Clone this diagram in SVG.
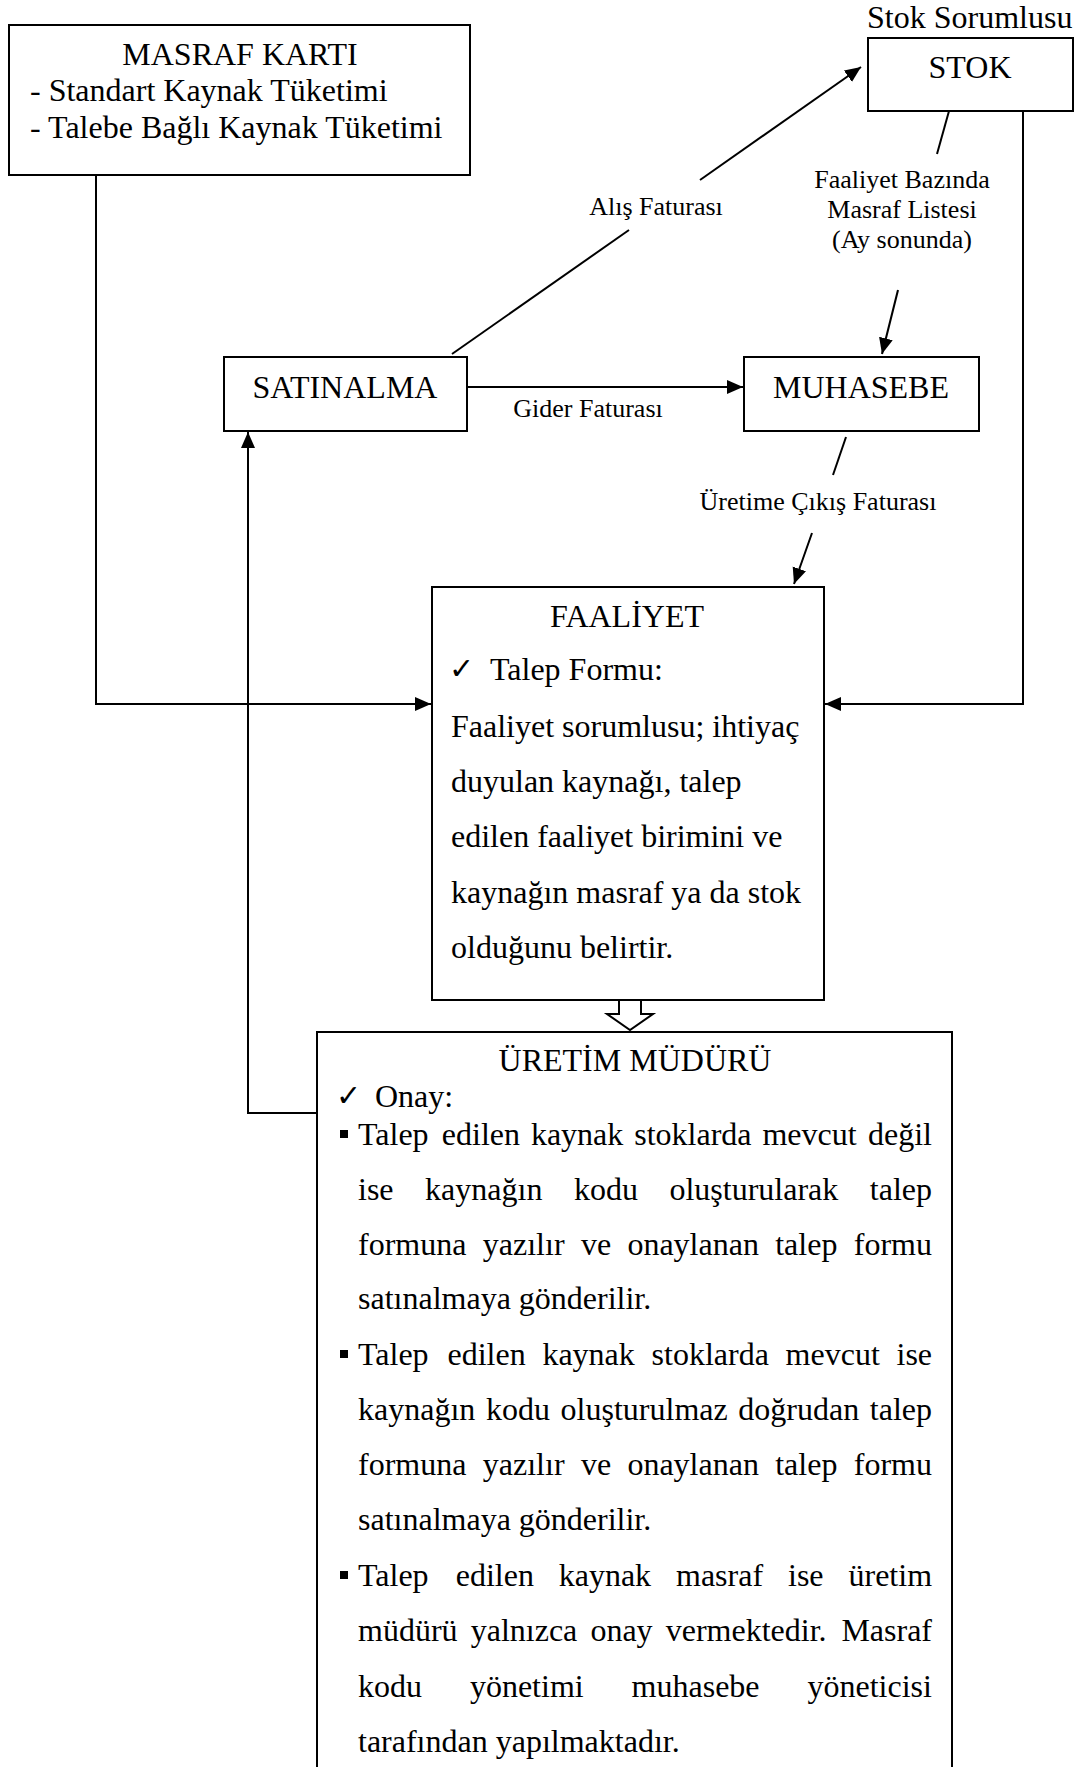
<svg xmlns="http://www.w3.org/2000/svg" width="1083" height="1767" viewBox="0 0 1083 1767">
<style>
.box{fill:#fff;stroke:#000;stroke-width:2}
.t{font-family:"Liberation Serif","Times New Roman",serif;font-size:32px;fill:#000}
.lbl{font-size:26px}
.mid{text-anchor:middle}
.ck{font-family:"DejaVu Sans",sans-serif;font-size:30px;fill:#000}
.c{fill:none;stroke:#000;stroke-width:2}
.ca{fill:none;stroke:#000;stroke-width:2;marker-end:url(#ah)}
</style>
<defs>
<marker id="ah" markerUnits="userSpaceOnUse" markerWidth="18" markerHeight="16" refX="16" refY="7" orient="auto">
<path d="M0,0 L16,7 L0,14 Z" fill="#000"/>
</marker>
</defs>
<rect width="1083" height="1767" fill="#fff"/>

<g id="connectors">
<path class="ca" d="M96,175 V704 H431"/>
<path class="ca" d="M1023,111 V704 H825"/>
<path class="ca" d="M317,1113 H248 V432"/>
<path class="ca" d="M467,387 H743"/>
<path class="c" d="M452,354 L629,230"/>
<path class="ca" d="M700,180 L861,67"/>
<path class="c" d="M949,111 L937,154"/>
<path class="ca" d="M898,290 L882,354"/>
<path class="c" d="M846,437 L833,475"/>
<path class="ca" d="M812,533 L794,584"/>
<polygon points="619,1000 619,1014 607,1014 630,1030 653,1014 641,1014 641,1000" fill="#fff" stroke="#000" stroke-width="2"/>
<text class="t lbl mid" x="656" y="215">Alış Faturası</text>
<text class="t lbl mid" x="588" y="417">Gider Faturası</text>
<text class="t lbl mid" x="902" y="188">Faaliyet Bazında</text>
<text class="t lbl mid" x="902" y="218">Masraf Listesi</text>
<text class="t lbl mid" x="902" y="248">(Ay sonunda)</text>
<text class="t lbl mid" x="818" y="510">Üretime Çıkış Faturası</text>
</g>

<g id="masraf-karti">
<rect class="box" x="9" y="25" width="461" height="150"/>
<text class="t mid" x="240" y="65">MASRAF KARTI</text>
<text class="t" x="30" y="101">- Standart Kaynak Tüketimi</text>
<text class="t" x="30" y="138">- Talebe Bağlı Kaynak Tüketimi</text>
</g>

<g id="stok">
<text class="t" x="867" y="28">Stok Sorumlusu</text>
<rect class="box" x="868" y="38" width="205" height="73"/>
<text class="t mid" x="970" y="78">STOK</text>
</g>

<g id="satinalma">
<rect class="box" x="224" y="357" width="243" height="74"/>
<text class="t mid" x="345" y="398">SATINALMA</text>
</g>

<g id="muhasebe">
<rect class="box" x="744" y="357" width="235" height="74"/>
<text class="t mid" x="861" y="398">MUHASEBE</text>
</g>

<g id="faaliyet">
<rect class="box" x="432" y="587" width="392" height="413"/>
<text class="t mid" x="627" y="627">FAALİYET</text>
<text class="ck" x="449" y="679">✓</text>
<text class="t" x="490" y="680">Talep Formu:</text>
<text class="t" x="451" y="737">Faaliyet sorumlusu; ihtiyaç</text>
<text class="t" x="451" y="792">duyulan kaynağı, talep</text>
<text class="t" x="451" y="847">edilen faaliyet birimini ve</text>
<text class="t" x="451" y="903">kaynağın masraf ya da stok</text>
<text class="t" x="451" y="958">olduğunu belirtir.</text>
</g>

<g id="uretim-muduru">
<rect class="box" x="317" y="1032" width="635" height="760"/>
<text class="t mid" x="635" y="1071">ÜRETİM MÜDÜRÜ</text>
<text class="ck" x="336" y="1106">✓</text>
<text class="t" x="375" y="1107">Onay:</text>
<rect x="340" y="1130" width="8" height="8" fill="#000"/>
<text class="t" y="1145"><tspan x="358">Talep</tspan><tspan x="441.8">edilen</tspan><tspan x="530.9">kaynak</tspan><tspan x="634.2">stoklarda</tspan><tspan x="762.4">mevcut</tspan><tspan x="868">değil</tspan></text>
<text class="t" y="1200"><tspan x="358">ise</tspan><tspan x="425.1">kaynağın</tspan><tspan x="573.9">kodu</tspan><tspan x="669.4">oluşturularak</tspan><tspan x="869.8">talep</tspan></text>
<text class="t" y="1255"><tspan x="358">formuna</tspan><tspan x="482.8">yazılır</tspan><tspan x="580.9">ve</tspan><tspan x="627.4">onaylanan</tspan><tspan x="775.2">talep</tspan><tspan x="853.8">formu</tspan></text>
<text class="t" x="358" y="1309">satınalmaya gönderilir.</text>
<rect x="340" y="1350" width="8" height="8" fill="#000"/>
<text class="t" y="1365"><tspan x="358">Talep</tspan><tspan x="447.5">edilen</tspan><tspan x="542.4">kaynak</tspan><tspan x="651.6">stoklarda</tspan><tspan x="785.6">mevcut</tspan><tspan x="896.5">ise</tspan></text>
<text class="t" y="1420"><tspan x="358">kaynağın</tspan><tspan x="485.9">kodu</tspan><tspan x="560.6">oluşturulmaz</tspan><tspan x="738.3">doğrudan</tspan><tspan x="869.8">talep</tspan></text>
<text class="t" y="1475"><tspan x="358">formuna</tspan><tspan x="482.8">yazılır</tspan><tspan x="580.9">ve</tspan><tspan x="627.4">onaylanan</tspan><tspan x="775.2">talep</tspan><tspan x="853.8">formu</tspan></text>
<text class="t" x="358" y="1530">satınalmaya gönderilir.</text>
<rect x="340" y="1571" width="8" height="8" fill="#000"/>
<text class="t" y="1586"><tspan x="358">Talep</tspan><tspan x="455.7">edilen</tspan><tspan x="558.7">kaynak</tspan><tspan x="676">masraf</tspan><tspan x="788">ise</tspan><tspan x="848.5">üretim</tspan></text>
<text class="t" y="1641"><tspan x="358">müdürü</tspan><tspan x="470.7">yalnızca</tspan><tspan x="590.4">onay</tspan><tspan x="665.7">vermektedir.</tspan><tspan x="841.4">Masraf</tspan></text>
<text class="t" y="1697"><tspan x="358">kodu</tspan><tspan x="469.9">yönetimi</tspan><tspan x="631.6">muhasebe</tspan><tspan x="807.5">yöneticisi</tspan></text>
<text class="t" x="358" y="1752">tarafından yapılmaktadır.</text>
</g>
</svg>
